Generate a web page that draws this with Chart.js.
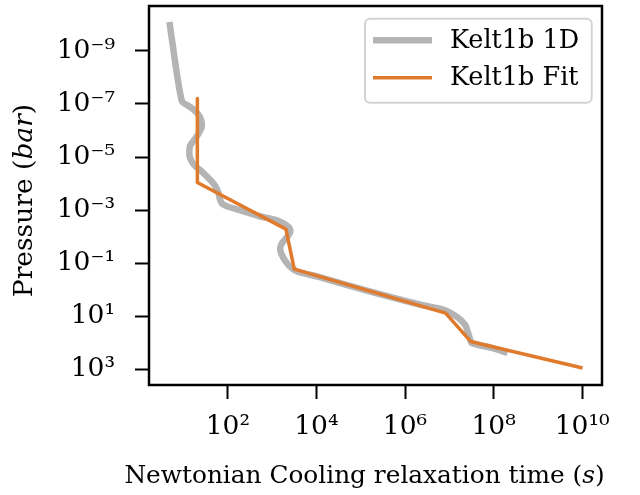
<!DOCTYPE html>
<html>
<head>
<meta charset="utf-8">
<script src="https://cdn.jsdelivr.net/npm/chart.js@4/dist/chart.umd.min.js"></script>
<style>
  html, body { margin: 0; padding: 0; background: #fff; }
  #wrap { width: 640px; height: 495px; }
</style>
</head>
<body>
<div id="wrap"><canvas id="c" width="640" height="495"></canvas></div>
<script>
// Kelt1b 1D profile: relaxation time (s) and pressure (bar)
const oneDTime = [4.8, 9.1, 14.0, 20.2, 24.9, 25.8, 22.4, 18.2, 14.0, 13.5, 14.0, 17.3, 26.2, 39.8, 51.6, 61.3, 67, 74.3, 102, 246, 538, 1175, 1880, 2440, 2570, 2200, 1690, 1520, 1610, 1980, 2570, 3700, 10300, 1.66e5, 2.24e6, 7.55e6, 1.25e7, 1.8e7, 2.34e7, 2.6e7, 2.88e7, 3.2e7, 8.6e7, 2.08e8];
const oneDPressure = [8.1e-11, 7.6e-8, 1.29e-7, 2.16e-7, 3.97e-7, 7.3e-7, 1.22e-6, 2.07e-6, 3.8e-6, 6.4e-6, 1.07e-5, 1.97e-5, 3.6e-5, 7.2e-5, 1.22e-4, 2.23e-4, 4.1e-4, 5.8e-4, 7.5e-4, 1.16e-3, 1.74e-3, 2.32e-3, 3.28e-3, 4.65e-3, 6.6e-3, 0.0101, 0.0171, 0.0263, 0.0443, 0.0813, 0.137, 0.206, 0.317, 1.19, 3.69, 5.69, 8.8, 13.6, 22.8, 38.4, 64.6, 102, 153, 237];
// Kelt1b fit
const fitTime = [20.5, 20.5, 2050, 3160, 8.24e6, 3.03e7, 1.02e10];
const fitPressure = [6.3e-8, 9.1e-5, 5.2e-3, 0.167, 7.6, 89, 890];
// tick positions
const xTicks = [1e2, 1e4, 1e6, 1e8, 1e10];
const yTicks = [1e-9, 1e-7, 1e-5, 1e-3, 1e-1, 1e1, 1e3];
const seriesLabels = ['Kelt1b 1D', 'Kelt1b Fit'];
// axis titles: [plain, italic, plain]
const xTitleParts = ['Newtonian Cooling relaxation time (', 's', ')'];
const yTitleParts = ['Pressure (', 'bar', ')'];

const SUP = {'0':'⁰','1':'¹','2':'²','3':'³','4':'⁴','5':'⁵','6':'⁶','7':'⁷','8':'⁸','9':'⁹','-':'⁻'};
function powLabel(v) {
  const e = Math.round(Math.log10(v));
  return '10' + String(e).split('').map(ch => SUP[ch]).join('');
}

const FONT = "'DejaVu Serif'";
const FS = 26.5;
const XFS = 24.8;
const GRAY = '#b4b4b4';
const ORANGE = '#e07a2c';

const framePlugin = {
  id: 'frame',
  afterDatasetsDraw(chart) {
    const {ctx, chartArea: a} = chart;
    ctx.save();
    ctx.strokeStyle = '#000';
    ctx.lineWidth = 2.5;
    ctx.strokeRect(a.left, a.top, a.right - a.left, a.bottom - a.top);
    ctx.restore();
  }
};

function drawParts(ctx, parts, size, startX, y) {
  let x = startX;
  parts.forEach((p, i) => {
    ctx.font = (i === 1 ? 'italic ' : '') + size + 'px ' + FONT;
    ctx.fillText(p, x, y);
    x += ctx.measureText(p).width;
  });
}
function partsWidth(ctx, parts, size) {
  let w = 0;
  parts.forEach((p, i) => {
    ctx.font = (i === 1 ? 'italic ' : '') + size + 'px ' + FONT;
    w += ctx.measureText(p).width;
  });
  return w;
}

const titlePlugin = {
  id: 'axisTitles',
  afterDraw(chart) {
    const {ctx, chartArea: a} = chart;
    ctx.save();
    ctx.fillStyle = '#000';
    ctx.textBaseline = 'alphabetic';
    ctx.textAlign = 'left';
    // x title
    const wx = partsWidth(ctx, xTitleParts, XFS);
    const cx = (a.left + a.right) / 2 - 11;
    drawParts(ctx, xTitleParts, XFS, cx - wx / 2, 482.7);
    // y title (rotated)
    const wy = partsWidth(ctx, yTitleParts, FS);
    const cy = (a.top + a.bottom) / 2 + 5;
    ctx.translate(31.5, cy);
    ctx.rotate(-Math.PI / 2);
    drawParts(ctx, yTitleParts, FS, -wy / 2, 0);
    ctx.restore();
  }
};

const legendPlugin = {
  id: 'customLegend',
  afterDraw(chart) {
    const {ctx, chartArea: a} = chart;
    const x0 = a.right - 237, y0 = a.top + 12.7, w = 226.7, h = 84;
    ctx.save();
    ctx.beginPath();
    ctx.roundRect(x0, y0, w, h, 5);
    ctx.fillStyle = 'rgba(255,255,255,0.85)';
    ctx.fill();
    ctx.strokeStyle = '#d4d4d4';
    ctx.lineWidth = 2;
    ctx.stroke();
    const rows = [
      {label: chart.data.datasets[0].label, color: GRAY, width: 6.5, y: y0 + 21.5},
      {label: chart.data.datasets[1].label, color: ORANGE, width: 3.5, y: y0 + 59}
    ];
    ctx.font = '25.5px ' + FONT;
    ctx.textBaseline = 'middle';
    ctx.fillStyle = '#000';
    for (const r of rows) {
      ctx.beginPath();
      ctx.lineCap = 'butt';
      ctx.strokeStyle = r.color;
      ctx.lineWidth = r.width;
      ctx.moveTo(x0 + 8, r.y);
      ctx.lineTo(x0 + 67, r.y);
      ctx.stroke();
      ctx.fillText(r.label, x0 + 85, r.y + 1);
    }
    ctx.restore();
  }
};

new Chart(document.getElementById('c'), {
  type: 'line',
  data: {
    datasets: [
      {
        label: seriesLabels[0],
        data: oneDTime.map((t, i) => ({x: t, y: oneDPressure[i]})),
        borderColor: GRAY,
        borderWidth: 6.5,
        pointRadius: 0,
        tension: 0.25,
        borderJoinStyle: 'round',
        borderCapStyle: 'butt',
        order: 2
      },
      {
        label: seriesLabels[1],
        data: fitTime.map((t, i) => ({x: t, y: fitPressure[i]})),
        borderColor: ORANGE,
        borderWidth: 3.5,
        pointRadius: 0,
        tension: 0,
        borderJoinStyle: 'round',
        borderCapStyle: 'butt',
        order: 1
      }
    ]
  },
  options: {
    responsive: false,
    animation: false,
    layout: { padding: { left: 0, right: 38, top: 6, bottom: 0 } },
    plugins: { legend: { display: false }, tooltip: { enabled: false } },
    scales: {
      x: {
        type: 'logarithmic',
        min: 1.66,
        max: 2.8e10,
        afterBuildTicks: s => { s.ticks = xTicks.map(v => ({value: v})); },
        afterFit: s => { s.height = 110; s.paddingLeft = 0; s.paddingRight = 0; },
        grid: { drawOnChartArea: false, drawTicks: true, tickLength: 14, tickWidth: 2, tickColor: '#000' },
        border: { display: false },
        ticks: {
          autoSkip: false, maxRotation: 0, minRotation: 0,
          padding: 12,
          color: '#000',
          font: { family: FONT, size: FS },
          callback: v => powLabel(v)
        },
        title: { display: false }
      },
      y: {
        type: 'logarithmic',
        reverse: true,
        min: 2.04e-11,
        max: 3890,
        afterBuildTicks: s => { s.ticks = yTicks.map(v => ({value: v})); },
        afterFit: s => { s.width = 149; s.paddingTop = 0; s.paddingBottom = 0; },
        grid: { drawOnChartArea: false, drawTicks: true, tickLength: 14, tickWidth: 2, tickColor: '#000' },
        border: { display: false },
        ticks: {
          autoSkip: false,
          padding: 20,
          color: '#000',
          font: { family: FONT, size: FS },
          callback: v => powLabel(v)
        },
        title: { display: false }
      }
    }
  },
  plugins: [framePlugin, titlePlugin, legendPlugin]
});
</script>
</body>
</html>
